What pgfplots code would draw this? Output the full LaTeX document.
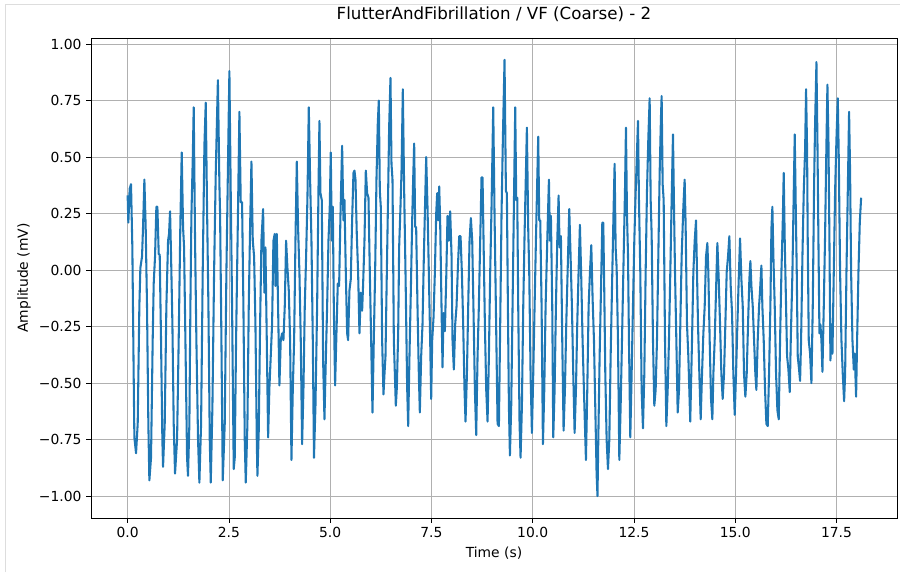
\documentclass[border=0pt]{standalone}
\usepackage{fontspec}
\setmainfont{DejaVu Sans}
\usepackage{pgfplots}
\pgfplotsset{compat=1.18}
\definecolor{mplblue}{HTML}{1F77B4}
\definecolor{mplgrid}{HTML}{B0B0B0}
\definecolor{framegray}{HTML}{DDDDDD}

\begin{document}
\begin{tikzpicture}
\useasboundingbox (-68.25pt,-40.5pt) rectangle (606.75pt,388.5pt);
\draw[framegray, line width=0.9pt] (-64.1pt,-40.5pt) -- (-64.1pt,385.1pt) -- (606.75pt,385.1pt);
\begin{axis}[
    scale only axis,
    width=604.5pt, height=360pt,
    xmin=-0.905, xmax=18.995,
    ymin=-1.0965, ymax=1.0265,
    xtick={0,2.5,5,7.5,10,12.5,15,17.5},
    xticklabels={0.0,2.5,5.0,7.5,10.0,12.5,15.0,17.5},
    ytick={-1,-0.75,-0.5,-0.25,0,0.25,0.5,0.75,1},
    yticklabels={−1.00,−0.75,−0.50,−0.25,0.00,0.25,0.50,0.75,1.00},
    tick pos=left,
    tick align=outside,
    major tick length=3.6pt,
    every tick/.style={black, line width=0.6pt},
    axis line style={line width=0.6pt},
    grid=major,
    major grid style={mplgrid, line width=0.6pt},
    ticklabel style={font=\fontsize{10.4}{12}\selectfont},
    title={FlutterAndFibrillation / VF (Coarse) - 2},
    title style={font=\fontsize{12.5}{15}\selectfont, at={(axis description cs:0.5,1.0229)}, anchor=base},
    xlabel={Time (s)},
    xlabel style={font=\fontsize{10.4}{12}\selectfont, at={(axis description cs:0.5,-0.0813)}, anchor=base},
    ylabel={Amplitude (mV)},
    ylabel style={font=\fontsize{10.4}{12}\selectfont, at={(axis description cs:-0.0782,0.5)}, anchor=base},
]
\addplot[mplblue, line width=1.55pt, line join=round, no markers] coordinates {
(0.000,0.33) (0.017,0.21) (0.050,0.36) (0.083,0.38) (0.116,0.10) (0.149,-0.47) (0.166,-0.74) (0.207,-0.81)
(0.248,-0.68) (0.289,-0.16) (0.314,0.01) (0.355,0.06) (0.380,0.19) (0.413,0.40) (0.445,0.19) (0.478,-0.16)
(0.511,-0.68) (0.536,-0.93) (0.577,-0.83) (0.618,-0.31) (0.643,-0.06) (0.676,0.06) (0.709,0.28) (0.734,0.28)
(0.767,0.07) (0.791,0.07) (0.824,-0.31) (0.857,-0.75) (0.874,-0.87) (0.915,-0.68) (0.956,-0.16) (0.998,0.13)
(1.022,0.16) (1.047,0.26) (1.072,0.06) (1.105,-0.24) (1.137,-0.68) (1.170,-0.90) (1.220,-0.75) (1.260,-0.31)
(1.300,0.19) (1.335,0.52) (1.368,0.19) (1.393,0.10) (1.426,-0.31) (1.467,-0.83) (1.490,-0.91) (1.524,-0.68)
(1.549,-0.16) (1.574,0.24) (1.607,0.49) (1.631,0.72) (1.664,0.13) (1.697,-0.31) (1.738,-0.75) (1.771,-0.94)
(1.813,-0.68) (1.853,-0.01) (1.895,0.55) (1.928,0.74) (1.960,0.28) (1.994,-0.16) (2.027,-0.75) (2.052,-0.94)
(2.093,-0.60) (2.134,-0.01) (2.175,0.43) (2.228,0.84) (2.265,0.38) (2.282,0.25) (2.315,-0.31) (2.348,-0.93)
(2.397,-0.68) (2.438,-0.01) (2.480,0.50) (2.512,0.88) (2.545,0.34) (2.578,-0.16) (2.619,-0.88) (2.644,-0.83)
(2.677,-0.31) (2.726,0.28) (2.759,0.70) (2.792,0.30) (2.825,0.30) (2.858,-0.16) (2.891,-0.75) (2.916,-0.94)
(2.957,-0.68) (2.990,-0.16) (3.023,0.19) (3.056,0.48) (3.089,0.13) (3.122,0.06) (3.155,-0.24) (3.188,-0.75)
(3.204,-0.91) (3.237,-0.71) (3.270,-0.24) (3.303,0.13) (3.344,0.27) (3.377,-0.10) (3.402,0.10) (3.435,-0.31)
(3.468,-0.74) (3.500,-0.52) (3.533,-0.38) (3.566,-0.24) (3.599,0.13) (3.632,0.16) (3.649,-0.07) (3.682,0.16)
(3.714,-0.16) (3.747,-0.51) (3.780,-0.31) (3.813,-0.28) (3.846,-0.31) (3.879,-0.16) (3.912,0.13) (3.945,0.01)
(3.978,-0.09) (4.011,-0.31) (4.044,-0.84) (4.077,-0.53) (4.110,-0.31) (4.143,0.13) (4.176,0.48) (4.209,0.18)
(4.241,-0.01) (4.274,-0.31) (4.307,-0.77) (4.340,-0.53) (4.373,-0.16) (4.406,0.06) (4.439,0.32) (4.472,0.72)
(4.505,0.40) (4.538,0.13) (4.571,-0.31) (4.600,-0.83) (4.637,-0.60) (4.678,-0.16) (4.711,0.35) (4.735,0.66)
(4.760,0.34) (4.793,0.31) (4.826,-0.40) (4.859,-0.66) (4.892,-0.40) (4.925,-0.16) (4.958,0.13) (4.990,0.28)
(5.015,0.52) (5.040,0.13) (5.065,0.28) (5.090,-0.16) (5.122,-0.51) (5.155,-0.28) (5.188,-0.06) (5.221,-0.07)
(5.254,0.24) (5.295,0.55) (5.328,0.22) (5.353,0.31) (5.386,-0.01) (5.419,-0.28) (5.443,-0.31) (5.476,-0.09)
(5.509,-0.04) (5.542,0.22) (5.575,0.43) (5.600,0.44) (5.625,0.40) (5.657,0.16) (5.690,-0.01) (5.723,-0.28)
(5.756,-0.10) (5.789,-0.18) (5.814,-0.06) (5.847,0.13) (5.880,0.44) (5.913,0.34) (5.946,0.32) (5.979,-0.01)
(6.012,-0.31) (6.045,-0.63) (6.077,-0.31) (6.110,-0.01) (6.143,0.40) (6.176,0.65) (6.201,0.75) (6.226,0.35)
(6.250,0.28) (6.283,-0.31) (6.316,-0.55) (6.341,-0.46) (6.366,-0.38) (6.399,-0.01) (6.432,0.35) (6.456,0.63)
(6.489,0.85) (6.514,0.47) (6.539,0.40) (6.572,-0.31) (6.621,-0.60) (6.646,-0.52) (6.679,-0.28) (6.703,0.10)
(6.736,0.28) (6.761,0.43) (6.794,0.80) (6.827,0.35) (6.860,-0.01) (6.901,-0.52) (6.926,-0.69) (6.959,-0.37)
(6.992,-0.09) (7.025,0.22) (7.049,0.40) (7.074,0.56) (7.099,0.19) (7.123,0.19) (7.156,-0.16) (7.189,-0.46)
(7.214,-0.63) (7.247,-0.38) (7.280,-0.24) (7.313,0.06) (7.338,0.25) (7.371,0.50) (7.403,0.28) (7.436,-0.01)
(7.469,-0.31) (7.494,-0.57) (7.519,-0.31) (7.552,-0.21) (7.585,-0.01) (7.618,0.25) (7.642,0.34) (7.667,0.22)
(7.692,0.37) (7.716,0.21) (7.749,-0.16) (7.774,-0.43) (7.799,-0.19) (7.832,-0.27) (7.865,-0.04) (7.897,0.24)
(7.930,0.13) (7.963,0.26) (7.996,0.07) (8.021,-0.31) (8.054,-0.44) (8.087,-0.24) (8.120,-0.16) (8.153,0.01)
(8.186,0.15) (8.219,0.15) (8.252,-0.01) (8.284,-0.24) (8.317,-0.53) (8.342,-0.67) (8.375,-0.47) (8.408,-0.16)
(8.441,0.13) (8.474,0.23) (8.507,0.13) (8.540,-0.19) (8.573,-0.53) (8.606,-0.73) (8.639,-0.38) (8.671,-0.16)
(8.704,0.13) (8.737,0.41) (8.762,0.41) (8.787,0.13) (8.820,-0.24) (8.853,-0.53) (8.886,-0.67) (8.919,-0.38)
(8.951,-0.01) (8.984,0.28) (9.026,0.72) (9.058,0.25) (9.091,-0.16) (9.133,-0.68) (9.166,-0.69) (9.198,-0.24)
(9.231,0.25) (9.264,0.58) (9.305,0.93) (9.339,0.35) (9.363,0.34) (9.388,-0.16) (9.413,-0.60) (9.438,-0.82)
(9.470,-0.60) (9.503,-0.16) (9.536,0.28) (9.569,0.72) (9.594,0.31) (9.619,0.32) (9.643,-0.16) (9.676,-0.68)
(9.701,-0.83) (9.734,-0.60) (9.767,-0.16) (9.800,0.16) (9.833,0.43) (9.857,0.63) (9.890,0.18) (9.915,-0.01)
(9.948,-0.46) (9.981,-0.72) (10.014,-0.46) (10.047,-0.16) (10.080,0.13) (10.113,0.40) (10.137,0.59) (10.162,0.22)
(10.187,0.22) (10.220,-0.16) (10.253,-0.77) (10.286,-0.53) (10.319,-0.16) (10.360,0.13) (10.401,0.40) (10.426,0.13)
(10.450,0.24) (10.483,-0.16) (10.508,-0.74) (10.541,-0.53) (10.574,-0.16) (10.607,0.13) (10.640,0.33) (10.664,0.10)
(10.697,0.15) (10.730,-0.31) (10.763,-0.71) (10.796,-0.53) (10.829,-0.24) (10.862,-0.01) (10.903,0.27) (10.936,0.06)
(10.969,-0.16) (11.002,-0.46) (11.035,-0.72) (11.068,-0.53) (11.100,-0.24) (11.133,-0.01) (11.166,0.20) (11.200,-0.04)
(11.232,-0.31) (11.265,-0.53) (11.315,-0.84) (11.348,-0.53) (11.381,-0.16) (11.414,-0.01) (11.447,0.11) (11.480,-0.13)
(11.513,-0.31) (11.545,-0.60) (11.578,-0.90) (11.600,-1.00) (11.620,-0.75) (11.653,-0.38) (11.686,-0.09) (11.719,0.21)
(11.743,0.21) (11.768,-0.10) (11.793,-0.46) (11.826,-0.75) (11.859,-0.88) (11.892,-0.75) (11.925,-0.38) (11.966,-0.01)
(11.999,0.28) (12.023,0.47) (12.048,0.10) (12.073,0.01) (12.106,-0.31) (12.139,-0.84) (12.172,-0.60) (12.205,-0.31)
(12.246,0.06) (12.279,0.35) (12.303,0.63) (12.328,0.25) (12.353,0.07) (12.377,-0.31) (12.410,-0.74) (12.443,-0.46)
(12.476,-0.16) (12.509,0.13) (12.542,0.34) (12.575,0.52) (12.600,0.66) (12.624,0.31) (12.657,-0.01) (12.690,-0.53)
(12.723,-0.70) (12.756,-0.46) (12.789,-0.01) (12.822,0.35) (12.855,0.58) (12.888,0.76) (12.913,0.31) (12.937,0.16)
(12.970,-0.31) (13.003,-0.60) (13.036,-0.53) (13.069,-0.31) (13.102,0.06) (13.135,0.43) (13.168,0.68) (13.184,0.77)
(13.209,0.38) (13.234,0.31) (13.267,-0.31) (13.300,-0.69) (13.333,-0.53) (13.365,-0.31) (13.398,-0.01) (13.431,0.31)
(13.464,0.60) (13.489,0.28) (13.514,-0.01) (13.547,-0.31) (13.580,-0.63) (13.613,-0.53) (13.645,-0.24) (13.678,0.06)
(13.720,0.28) (13.752,0.40) (13.777,0.19) (13.810,-0.24) (13.843,-0.38) (13.890,-0.67) (13.934,-0.31) (13.967,-0.01)
(14.000,0.13) (14.033,0.22) (14.057,-0.01) (14.082,-0.24) (14.115,-0.46) (14.148,-0.66) (14.181,-0.46) (14.214,-0.28)
(14.247,-0.16) (14.280,0.06) (14.313,0.12) (14.337,-0.01) (14.370,-0.31) (14.403,-0.57) (14.436,-0.66) (14.461,-0.46)
(14.494,-0.31) (14.527,-0.09) (14.560,0.12) (14.593,-0.04) (14.626,-0.24) (14.659,-0.46) (14.691,-0.57) (14.724,-0.46)
(14.757,-0.24) (14.790,-0.01) (14.823,0.06) (14.856,0.15) (14.889,-0.07) (14.922,-0.19) (14.955,-0.46) (14.988,-0.64)
(15.021,-0.46) (15.054,-0.24) (15.087,-0.04) (15.120,0.14) (15.153,-0.04) (15.186,-0.16) (15.218,-0.46) (15.251,-0.56)
(15.284,-0.46) (15.317,-0.24) (15.350,-0.04) (15.375,0.04) (15.400,-0.07) (15.433,-0.16) (15.466,-0.31) (15.498,-0.46)
(15.523,-0.53) (15.556,-0.31) (15.589,-0.16) (15.614,-0.09) (15.647,0.02) (15.671,-0.16) (15.704,-0.31) (15.737,-0.53)
(15.770,-0.68) (15.803,-0.69) (15.836,-0.46) (15.869,-0.16) (15.894,0.18) (15.918,0.28) (15.943,0.06) (15.976,-0.16)
(16.009,-0.46) (16.042,-0.62) (16.075,-0.66) (16.108,-0.31) (16.141,-0.01) (16.174,0.21) (16.198,0.43) (16.223,0.13)
(16.248,-0.09) (16.281,-0.38) (16.314,-0.44) (16.347,-0.54) (16.372,-0.31) (16.413,-0.01) (16.446,0.35) (16.470,0.60)
(16.495,0.28) (16.520,-0.01) (16.544,-0.38) (16.577,-0.44) (16.602,-0.49) (16.627,-0.31) (16.660,0.06) (16.693,0.35)
(16.726,0.53) (16.750,0.80) (16.775,0.53) (16.791,0.13) (16.816,-0.31) (16.849,-0.37) (16.882,-0.50) (16.915,-0.16)
(16.948,0.38) (16.973,0.65) (17.006,0.92) (17.030,0.58) (17.055,0.13) (17.080,-0.28) (17.104,-0.24) (17.129,-0.31)
(17.154,-0.45) (17.187,-0.16) (17.220,0.16) (17.244,0.46) (17.277,0.82) (17.302,0.58) (17.327,0.13) (17.351,-0.40)
(17.376,-0.24) (17.401,-0.37) (17.434,-0.01) (17.467,0.35) (17.500,0.58) (17.533,0.76) (17.557,0.50) (17.590,-0.01)
(17.623,-0.31) (17.656,-0.46) (17.689,-0.58) (17.714,-0.46) (17.747,-0.01) (17.780,0.35) (17.812,0.70) (17.837,0.43)
(17.862,-0.01) (17.895,-0.31) (17.928,-0.44) (17.952,-0.37) (17.985,-0.56) (18.010,-0.31) (18.043,-0.01) (18.076,0.21)
(18.109,0.32)
};
\end{axis}
\end{tikzpicture}
\end{document}
